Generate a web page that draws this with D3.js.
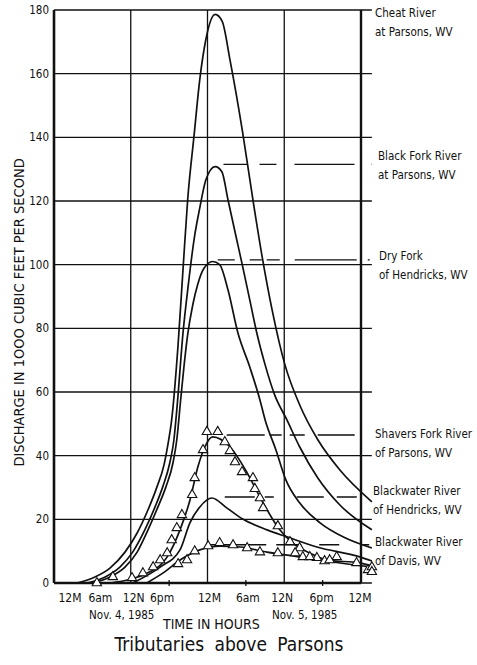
<!doctype html>
<html>
  <head>
    <meta charset="utf-8">
    <script src="https://cdn.jsdelivr.net/npm/d3@7"></script>
    <style>
      body { margin: 0; background: white; }
      svg { display: block; }
      text {
        font-family: "Liberation Sans Narrow", "Arial Narrow", "DejaVu Sans Condensed", sans-serif;
        fill: #111;
      }
      .grid line { stroke: #111; stroke-width: 1.3; }
      .curve { fill: none; stroke: #111; stroke-width: 1.7; }
      .peak { stroke: #111; stroke-width: 1.4; }
      .tri { fill: white; stroke: #111; stroke-width: 1.1; }
    </style>
  </head>
  <body>
    <svg class="chart"></svg>
    <script>
      // hours after midnight Nov. 4, 1985 ; discharge in 1000 cfs
      const cheatHours = [3.6, 6.4, 8.75, 11.1, 13.0, 14.7, 16.1, 17.2, 17.8, 18.4, 19.4, 20.2, 20.9, 21.9, 22.8, 23.75, 25.2, 26.3, 27.5, 29.5, 31.1, 32.5, 34.1, 36.1, 38.4, 41.25, 44.7, 49.7]
      const cheatFlow  = [0, 1.9, 4.7, 9.7, 15.7, 23, 30.2, 37.1, 43.4, 51.3, 74.8, 99.4, 120.4, 140.6, 158.3, 170.8, 178.6, 176.4, 164.5, 141.5, 120.4, 103, 85.8, 68.6, 56, 45, 35.5, 25.5]

      const blackForkHours = [5.2, 8.0, 10.3, 12.3, 14.2, 15.8, 17.0, 18.1, 18.75, 19.2, 20.2, 21.0, 21.9, 22.8, 23.75, 25.2, 26.25, 27.2, 28.4, 29.5, 30.6, 31.7, 33.0, 34.5, 36.4, 38.4, 41.25, 44.7, 49.7]
      const blackForkFlow  = [0, 1.9, 5, 9.7, 16.7, 23.9, 30.2, 37.7, 45, 54.4, 79.2, 93.7, 107.9, 117.9, 126.7, 130.8, 129.2, 120.4, 109.4, 99.4, 89, 78.6, 68.6, 59.1, 51.3, 42.8, 33, 24.5, 16.7]

      const dryForkHours = [6.1, 8.75, 11.1, 13.0, 14.7, 16.25, 17.5, 18.6, 19.2, 19.8, 20.3, 20.9, 21.7, 22.5, 23.4, 24.8, 25.9, 27.2, 28.75, 30.6, 32.2, 33.0, 34.7, 36.25, 38.4, 41.6, 45.5, 49.7]
      const dryForkFlow  = [0, 1.9, 5, 9.7, 16.7, 23.9, 30.2, 37.7, 45, 57.5, 67.6, 78, 87.4, 94, 98.7, 101, 100, 92.1, 78.6, 67.9, 57.5, 51.3, 41.8, 32.4, 25.2, 18.9, 14.2, 11]

      const shaversHours = [8.75, 15.0, 17.7, 19.7, 21.25, 22.5, 23.6, 24.8, 27.5, 30.2, 32.2, 35.3, 37.3, 40.0, 42.7, 47.8, 49.7]
      const shaversFlow  = [0, 3.5, 8.2, 16.7, 26, 36.5, 42.8, 45.9, 42.8, 34.6, 27, 16.7, 12.6, 9.4, 7.2, 6.3, 5.3]

      const bwHendricksHours = [12.3, 16.6, 19.7, 21.25, 22.8, 24.7, 27.0, 29.5, 33.3, 36.4, 41.1, 47.8, 49.7]
      const bwHendricksFlow  = [0, 5, 10.4, 18.9, 23.9, 26.7, 23.6, 20.1, 16.7, 14.5, 11.3, 8.2, 6.9]

      const bwDavisHours = [14.5, 17.3, 19.7, 22.8, 25.9, 29.1, 33.3, 38.4, 43.6, 49.7]
      const bwDavisFlow  = [0, 3.5, 7.2, 10.4, 11.6, 11.3, 9.7, 8.2, 6.6, 5]

      // observed points (triangles)
      const shaversObsHours = [6.7, 9.2, 12.2, 13.9, 15.5, 16.6, 17.7, 18.4, 19.2, 20.0, 21.6, 22.0, 23.3, 23.9, 25.6, 26.7, 27.5, 28.3, 29.4, 31.1, 31.4, 32.2, 32.7, 35.0, 36.9, 38.4, 38.9, 41.1, 42.3, 44.2, 47.3, 49.1, 49.7]
      const shaversObsFlow  = [0, 1.9, 1.6, 3.1, 5, 7.2, 9.4, 13.5, 17.3, 21.4, 27.7, 33, 41.8, 47.5, 47.5, 44.3, 41.5, 38, 34.9, 33, 29.6, 26.7, 23.6, 17.9, 12.9, 11, 8.2, 7.9, 6.9, 8.2, 6.3, 4.1, 5]
      const davisObsHours = [19.4, 20.8, 22.0, 24.1, 25.9, 28.0, 30.2, 32.2, 35.0, 37.7, 40.0, 43.1, 49.7]
      const davisObsFlow  = [6, 7.2, 10, 11.6, 12.6, 11.9, 11, 9.7, 9.4, 9.4, 8.2, 7.2, 3.5]

      // peak levels marked with dashed lines
      const peakNames  = ["Black Fork", "Dry Fork", "Shavers Fork", "Blackwater Hendricks", "Blackwater Davis"]
      const peakLevels = [131.5, 101.5, 46.5, 27, 12]
      const peakStart  = [26.5, 25.6, 27.0, 26.7, 23.8]

      const yTicks = [0, 20, 40, 60, 80, 100, 120, 140, 160, 180]
      const xTickHours  = [0, 6, 12, 18, 24, 30, 36, 42, 48]
      const xTickLabels = ["12M", "6am", "12N", "6pm", "12M", "6am", "12N", "6pm", "12M"]

      const margin = { top: 10, left: 54 },
            width = 307,
            height = 573

      const svg = d3.select(".chart").attr("width", 477).attr("height", 665)
      const chart = svg.append("g").attr("transform", "translate(" + margin.left + "," + margin.top + ")")

      const xScale = d3.scaleLinear().domain([0, 48]).range([0, width])
      const yScale = d3.scaleLinear().domain([0, 180]).range([height, 0])

      // grid
      const grid = chart.append("g").attr("class", "grid")
      grid.selectAll(".h").data(yTicks).enter().append("line")
          .attr("x1", 0).attr("x2", xScale(49.7))
          .attr("y1", d => yScale(d)).attr("y2", d => yScale(d))
      grid.selectAll(".v").data([12, 24, 36]).enter().append("line")
          .attr("x1", d => xScale(d)).attr("x2", d => xScale(d))
          .attr("y1", yScale(180)).attr("y2", yScale(0))

      // heavy frame lines
      chart.append("line").attr("x1", 0).attr("x2", 0).attr("y1", yScale(180)).attr("y2", yScale(0))
          .attr("stroke", "#111").attr("stroke-width", 2.6)
      chart.append("line").attr("x1", xScale(48)).attr("x2", xScale(48)).attr("y1", yScale(180)).attr("y2", yScale(0))
          .attr("stroke", "#111").attr("stroke-width", 2.4)
      chart.append("line").attr("x1", 0).attr("x2", xScale(48)).attr("y1", yScale(0)).attr("y2", yScale(0))
          .attr("stroke", "#111").attr("stroke-width", 2.6)

      // small ticks at 6am / 6pm
      chart.selectAll(".xtick").data([18, 30, 42]).enter().append("line")
          .attr("x1", d => xScale(d)).attr("x2", d => xScale(d))
          .attr("y1", yScale(0) - 3).attr("y2", yScale(0) + 3)
          .attr("stroke", "#111").attr("stroke-width", 1.3)

      // y tick labels
      chart.selectAll(".ylab").data(yTicks).enter().append("text")
          .attr("x", -5).attr("y", d => yScale(d)).attr("dy", "0.35em")
          .attr("text-anchor", "end").style("font-size", "11.5px")
          .text(d => d)

      // x tick labels
      const nudge = [16, 8, 3, -7, 2, 2, -2, -1, -1]
      chart.selectAll(".xlab").data(xTickHours).enter().append("text")
          .attr("x", (d, i) => xScale(d) + nudge[i]).attr("y", yScale(0) + 19)
          .attr("text-anchor", "middle").style("font-size", "12px")
          .text((d, i) => xTickLabels[i])

      chart.append("text").attr("x", xScale(10.6)).attr("y", yScale(0) + 36)
          .attr("text-anchor", "middle").style("font-size", "11.5px").text("Nov. 4, 1985")
      chart.append("text").attr("x", xScale(39.2)).attr("y", yScale(0) + 36)
          .attr("text-anchor", "middle").style("font-size", "11.5px").text("Nov. 5, 1985")
      chart.append("text").attr("x", xScale(24.6)).attr("y", yScale(0) + 46)
          .attr("text-anchor", "middle").style("font-size", "14px").text("TIME IN HOURS")

      chart.append("text")
          .attr("transform", "translate(-30," + yScale(85) + ") rotate(-90)")
          .attr("text-anchor", "middle").style("font-size", "14.5px")
          .text("DISCHARGE IN 1OOO CUBIC FEET PER SECOND")

      svg.append("text").attr("x", 229).attr("y", 651)
          .attr("text-anchor", "middle").style("font-size", "19px").style("word-spacing", "5px")
          .text("Tributaries above Parsons")

      // dashed peak lines
      const dashes = ["24,12,17,18,60,17,2", "17,15,12,5,13,15,62,11,2", "38,5,12,8,15,13,37,100",
                      "30,10,9,23,27,13,20,15,3", "60,10,25,18,20,24,6"]
      chart.selectAll(".peak").data(peakLevels).enter().append("line")
          .attr("class", "peak")
          .attr("x1", (d, i) => xScale(peakStart[i])).attr("x2", xScale(49.7))
          .attr("y1", d => yScale(d)).attr("y2", d => yScale(d))
          .attr("stroke-dasharray", (d, i) => dashes[i])

      // curves
      const line = d3.line()
          .x(d => xScale(d[0])).y(d => yScale(d[1]))
          .curve(d3.curveMonotoneX)
      const series = [
        [cheatHours, cheatFlow], [blackForkHours, blackForkFlow], [dryForkHours, dryForkFlow],
        [shaversHours, shaversFlow], [bwHendricksHours, bwHendricksFlow], [bwDavisHours, bwDavisFlow]
      ]
      chart.selectAll(".curve").data(series).enter().append("path")
          .attr("class", "curve")
          .attr("d", s => line(d3.zip(s[0], s[1])))

      // observed triangles
      const tri = d3.symbol().type(d3.symbolTriangle).size(38)
      const obs = d3.zip(shaversObsHours, shaversObsFlow).concat(d3.zip(davisObsHours, davisObsFlow))
      chart.selectAll(".tri").data(obs).enter().append("path")
          .attr("class", "tri")
          .attr("transform", d => "translate(" + xScale(d[0]) + "," + yScale(d[1]) + ")")
          .attr("d", tri)

      // river labels
      const riverLabels = [
        ["Cheat River", "at Parsons, WV", 375, 17],
        ["Black Fork River", "at Parsons, WV", 378, 160],
        ["Dry Fork", "of Hendricks, WV", 379, 260],
        ["Shavers Fork River", "of Parsons, WV", 375, 438],
        ["Blackwater River", "of Hendricks, WV", 373, 495],
        ["Blackwater River", "of Davis, WV", 375, 546]
      ]
      const lab = svg.selectAll(".river").data(riverLabels).enter().append("text")
          .attr("x", d => d[2]).attr("y", d => d[3]).style("font-size", "11.5px")
      lab.append("tspan").text(d => d[0])
      lab.append("tspan").attr("x", d => d[2]).attr("dy", 18.5).text(d => d[1])
    </script>
  </body>
</html>
